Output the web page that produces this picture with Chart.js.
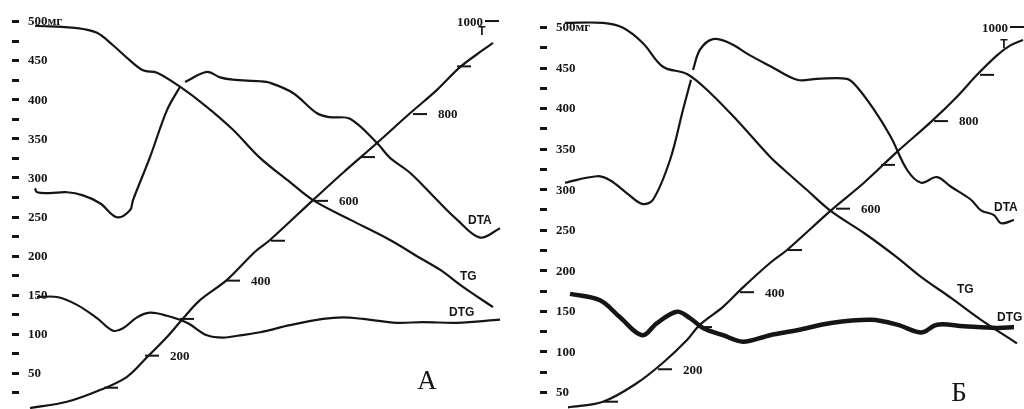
<!DOCTYPE html>
<html>
<head>
<meta charset="utf-8">
<script src="https://cdn.jsdelivr.net/npm/chart.js@4/dist/chart.umd.min.js"></script>
<style>
  body { margin: 0; background: #fff; }
  canvas { position: absolute; top: 0; }
  #chartA { left: 0; }
  #chartB { left: 512px; }
</style>
</head>
<body>
<canvas id="chartA" width="512" height="409"></canvas>
<canvas id="chartB" width="512" height="409"></canvas>
<script>
// mass scale (mg) and temperature marks along the T curve
const massTicks = [25, 50, 75, 100, 125, 150, 175, 200, 225, 250, 275, 300, 325, 350, 375, 400, 425, 450, 475, 500];
const massLabels = [50, 100, 150, 200, 250, 300, 350, 400, 450, 500];
const tempTicks = [100, 200, 300, 400, 500, 600, 700, 800, 900, 1000];
const tempLabels = [200, 400, 600, 800, 1000];

// Panel A  (x = time, arbitrary units; y = mg)
const tgA = [[35,494],[77,491],[97,485],[113,469],[127,453],[143,437],[157,434],[180,416],[207,390],[233,361],[260,325],[290,294],[313,271],[350,246],[390,220],[420,197],[440,182],[463,160],[493,134]];
const dtaA = [[35,286],[37,281],[50,280],[67,281],[83,277],[100,267],[117,249],[130,258],[133,271],[150,326],[167,386],[180,416],[182,null],[185,422],[207,435],[220,428],[233,425],[260,423],[270,421],[293,408],[317,382],[330,377],[350,375],[377,344],[390,325],[410,306],[437,271],[457,246],[480,223],[500,235]];
const dtgA = [[37,147],[57,147],[77,137],[97,120],[113,104],[123,107],[137,121],[150,127],[167,123],[187,114],[207,98],[223,95],[240,98],[260,102],[290,111],[323,119],[343,121],[363,119],[397,114],[423,115],[457,114],[500,118]];
const tA = [[30,5],[67,13],[100,28],[127,45],[147,70],[167,96],[180,115],[200,143],[227,169],[255,205],[270,220],[313,271],[343,306],[377,344],[410,382],[437,412],[460,441],[483,463],[493,472]];
const tMarksA = [[111,31],[152,72],[187,119],[233,168],[278,219],[321,270],[368,326],[420,381],[464,442],[492,500]];

// Panel Б
const tgB = [[53,505],[91,505],[111,499],[131,480],[151,451],[175,442],[198,419],[225,385],[258,340],[272,324],[295,299],[319,273],[352,246],[385,216],[409,192],[439,166],[469,139],[505,110]];
const dtaB = [[53,308],[85,316],[98,311],[115,295],[130,282],[141,287],[158,336],[171,398],[179,435],[180,null],[181,447],[188,472],[201,485],[218,480],[238,465],[258,452],[285,435],[305,436],[335,436],[345,426],[362,398],[379,364],[395,324],[409,308],[425,315],[439,303],[459,287],[469,274],[482,268],[489,258],[502,262]];
const dtgB = [[58,171],[88,163],[108,142],[130,120],[145,135],[165,149],[178,141],[191,129],[211,120],[231,112],[258,120],[285,126],[319,135],[359,139],[385,133],[405,124],[412,124],[425,133],[452,131],[485,129],[502,130]];
const tB = [[56,31],[91,38],[125,61],[151,86],[175,114],[188,133],[211,155],[231,179],[258,209],[275,225],[319,274],[352,308],[385,346],[419,383],[445,414],[465,441],[485,465],[498,477],[511,484]];
const tMarksB = [[99,38],[153,78],[193,130],[235,173],[283,225],[331,276],[376,330],[429,384],[475,441],[505,500]];

const ink = '#151515';
const toXY = arr => arr.map(p => ({ x: p[0], y: p[1] }));

const thermoPlugin = {
  id: 'thermo',
  afterDatasetsDraw(chart, args, opts) {
    const { ctx, scales: { x, y } } = chart;
    ctx.save();
    ctx.fillStyle = ink;
    // mass axis dashes + labels
    massTicks.forEach(v => {
      if (v < opts.minMass) return;
      ctx.fillRect(opts.axisX, Math.round(y.getPixelForValue(v)) - 1, 7, 3);
    });
    ctx.font = 'bold 13px "Liberation Serif"';
    ctx.textBaseline = 'middle';
    ctx.textAlign = 'left';
    massLabels.forEach(v => {
      ctx.fillText(v === 500 ? '500мг' : String(v), opts.axisX + 16, y.getPixelForValue(v) + 1);
    });
    // temperature labels beside the marks
    opts.marks.forEach((p, i) => {
      const t = tempTicks[i];
      if (!tempLabels.includes(t)) return;
      const px = x.getPixelForValue(p[0]);
      const py = y.getPixelForValue(p[1]) + 1;
      if (t === 1000) {
        ctx.textAlign = 'right';
        ctx.fillText(String(t), px - 9, py + 1);
      } else {
        ctx.textAlign = 'left';
        ctx.fillText(String(t), px + 18, py);
      }
    });
    // curve names
    ctx.font = 'bold 12px "Liberation Sans"';
    opts.names.forEach(n => {
      ctx.textAlign = n.align || 'left';
      ctx.fillText(n.text, x.getPixelForValue(n.x), y.getPixelForValue(n.y));
    });
    // panel letter
    ctx.font = '27px "Liberation Serif"';
    ctx.textAlign = 'center';
    ctx.fillText(opts.letter.text, x.getPixelForValue(opts.letter.x), y.getPixelForValue(opts.letter.y));
    ctx.restore();
  }
};

function curve(data, width) {
  return {
    data: toXY(data), borderColor: ink, borderWidth: width, pointRadius: 0,
    tension: 0.35, fill: false, spanGaps: false
  };
}

function makePanel(id, sets, yMin, yMax, opts) {
  new Chart(document.getElementById(id), {
    type: 'line',
    data: {
      datasets: [
        curve(sets.tg, 2.2),
        curve(sets.dta, 2.2),
        curve(sets.dtg, sets.dtgWidth),
        curve(sets.t, 2.2),
        {
          type: 'scatter', data: toXY(sets.marks), showLine: false,
          pointStyle: 'line', pointRadius: 7, borderColor: ink, borderWidth: 2
        }
      ]
    },
    options: {
      responsive: false,
      animation: false,
      devicePixelRatio: 1,
      layout: { padding: 0, autoPadding: false },
      plugins: { legend: { display: false }, tooltip: { enabled: false }, thermo: opts },
      scales: {
        x: { type: 'linear', min: 0, max: 512, display: false },
        y: { type: 'linear', min: yMin, max: yMax, display: false }
      }
    },
    plugins: [thermoPlugin]
  });
}

makePanel('chartA', { tg: tgA, dta: dtaA, dtg: dtgA, t: tA, marks: tMarksA, dtgWidth: 2.2 }, 3.8, 526.9, {
  axisX: 12, minMass: 25, marks: tMarksA,
  names: [
    { text: 'DTA', x: 468, y: 245 },
    { text: 'TG', x: 460, y: 173 },
    { text: 'DTG', x: 449, y: 127 },
    { text: 'T', x: 482, y: 487, align: 'center' }
  ],
  letter: { text: 'А', x: 427, y: 38 }
});

makePanel('chartB', { tg: tgB, dta: dtaB, dtg: dtgB, t: tB, marks: tMarksB, dtgWidth: 4.5 }, 29.0, 533.3, {
  axisX: 28, minMass: 50, marks: tMarksB,
  names: [
    { text: 'DTA', x: 482, y: 277 },
    { text: 'TG', x: 445, y: 176 },
    { text: 'DTG', x: 485, y: 142 },
    { text: 'T', x: 492, y: 478, align: 'center' }
  ],
  letter: { text: 'Б', x: 447, y: 47 }
});
</script>
</body>
</html>
